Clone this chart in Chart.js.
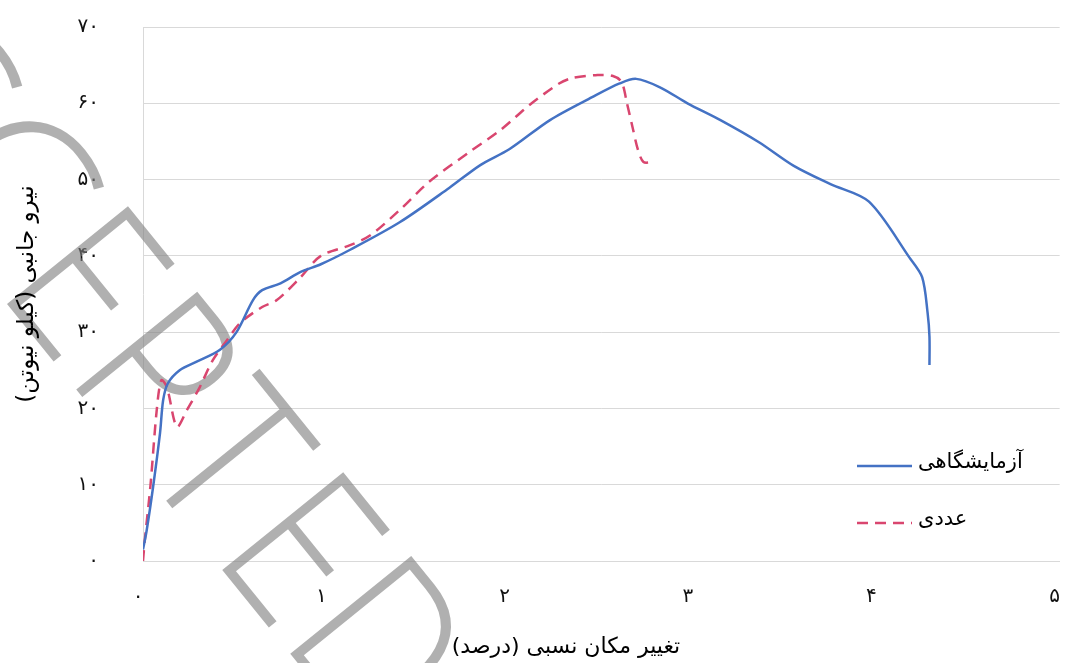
<!DOCTYPE html>
<html>
<head>
<meta charset="utf-8">
<script src="https://cdn.jsdelivr.net/npm/chart.js"></script>
<style>
  html, body { margin: 0; padding: 0; background: #fff; }
  #wrap { width: 1065px; height: 663px; }
</style>
</head>
<body>
<div id="wrap"><canvas id="myChart" width="1065" height="663"></canvas></div>
<script>
// داده‌ها (خوانده شده از تصویر)
const seriesNames = ['آزمایشگاهی', 'عددی'];
const xTickLabels = ['۰', '۱', '۲', '۳', '۴', '۵'];
const yTickLabels = ['۰', '۱۰', '۲۰', '۳۰', '۴۰', '۵۰', '۶۰', '۷۰'];
const xTitle = 'تغییر مکان نسبی (درصد)';
const yTitle = 'نیرو جانبی (کیلو نیوتن)';

// آزمایشگاهی
const labX = [0, 0.02, 0.055, 0.093, 0.11, 0.136, 0.2, 0.29, 0.42, 0.51, 0.6, 0.65, 0.75, 0.86, 0.97, 1.13, 1.4, 1.67, 1.84, 2.0, 2.22, 2.45, 2.6, 2.69, 2.82, 2.97, 3.15, 3.36, 3.55, 3.75, 3.96, 4.18, 4.25, 4.28, 4.29, 4.29];
const labY = [1.5, 4.0, 9.7, 16.8, 21.1, 23.3, 25.0, 26.1, 27.7, 30.0, 34.2, 35.5, 36.4, 37.9, 38.9, 40.8, 44.4, 48.9, 51.9, 54.0, 57.8, 60.8, 62.6, 63.2, 62.1, 60.0, 57.8, 54.9, 51.8, 49.4, 47.1, 39.8, 37.2, 32.5, 29.4, 25.7];

// عددی
const numX = [0, 0.01, 0.04, 0.075, 0.1, 0.13, 0.185, 0.24, 0.31, 0.38, 0.46, 0.53, 0.65, 0.73, 0.86, 0.97, 1.13, 1.24, 1.4, 1.56, 1.78, 1.95, 2.11, 2.27, 2.34, 2.48, 2.56, 2.61, 2.64, 2.67, 2.7, 2.73, 2.78];
const numY = [0, 2.8, 9.7, 19.8, 23.7, 22.8, 17.6, 19.8, 22.8, 26.3, 29.0, 31.2, 33.3, 34.2, 37.2, 40.0, 41.4, 42.7, 46.0, 49.7, 53.6, 56.5, 59.8, 62.6, 63.3, 63.7, 63.6, 62.8, 60.0, 56.9, 53.9, 52.3, 52.3];

const blue = '#4472c4';
const red = '#d9466f';
const gridColor = '#d9d9d9';

function pts(xs, ys) {
  return xs.map((x, i) => ({ x: x, y: ys[i] }));
}

// واترمارک، عنوان محورها و راهنما
const decor = {
  id: 'decor',
  beforeDatasetsDraw(chart) {
    const ctx = chart.ctx;
    ctx.save();
    ctx.rotate(51 * Math.PI / 180);
    ctx.fillStyle = 'rgba(128,128,128,0.62)';
    ctx.font = '300 218px "Open Sans"';
    ctx.textBaseline = 'alphabetic';
    const word = 'ACCEPTED';
    const lefts = [-170, -35, 95, 240, 350, 450, 582, 690];
    for (let i = 0; i < word.length; i++) {
      const m = ctx.measureText(word[i]);
      ctx.save();
      ctx.translate(lefts[i], 186);
      ctx.scale(word[i] === 'C' ? 1 : 0.87, 1);
      ctx.fillText(word[i], m.actualBoundingBoxLeft, 0);
      ctx.restore();
    }
    ctx.restore();
  },
  afterDraw(chart) {
    const ctx = chart.ctx;
    const a = chart.chartArea;
    ctx.save();
    ctx.fillStyle = '#000';
    ctx.direction = 'rtl';
    ctx.textAlign = 'center';
    ctx.textBaseline = 'middle';
    ctx.font = '22px "DejaVu Sans"';
    ctx.fillText(xTitle, 566, 647);
    ctx.save();
    ctx.translate(27, (a.top + a.bottom) / 2);
    ctx.rotate(-Math.PI / 2);
    ctx.font = '23px "DejaVu Sans"';
    ctx.fillText(yTitle, 0, 0);
    ctx.restore();

    // راهنما
    ctx.font = '21px "DejaVu Sans"';
    const ds = chart.data.datasets;
    const rows = [466, 523];
    ds.forEach((d, i) => {
      ctx.beginPath();
      ctx.strokeStyle = d.borderColor;
      ctx.lineWidth = d.borderWidth;
      ctx.setLineDash(d.borderDash || []);
      ctx.moveTo(857, rows[i]);
      ctx.lineTo(912, rows[i]);
      ctx.stroke();
      ctx.setLineDash([]);
      ctx.textAlign = 'left';
      ctx.direction = 'ltr';
      ctx.fillText(d.label, 918, rows[i] - 3);
    });
    ctx.restore();
  }
};

const ctx = document.getElementById('myChart').getContext('2d');
const myChart = new Chart(ctx, {
  type: 'scatter',
  data: {
    datasets: [{
      label: seriesNames[0],
      data: pts(labX, labY),
      showLine: true,
      borderColor: blue,
      borderWidth: 2.5,
      pointRadius: 0,
      tension: 0.3
    }, {
      label: seriesNames[1],
      data: pts(numX, numY),
      showLine: true,
      borderColor: red,
      borderWidth: 2.5,
      borderDash: [11, 7],
      pointRadius: 0,
      tension: 0.3
    }]
  },
  options: {
    responsive: false,
    animation: false,
    devicePixelRatio: 1,
    layout: { padding: { top: 27, right: 5, left: 0, bottom: 0 } },
    plugins: {
      legend: { display: false },
      tooltip: { enabled: false }
    },
    scales: {
      x: {
        type: 'linear',
        min: 0,
        max: 5,
        afterFit: s => { s.height = 102; },
        grid: { display: true, drawOnChartArea: false, drawTicks: true, tickLength: 24, tickColor: 'rgba(0,0,0,0)', color: 'rgba(0,0,0,0)' },
        border: { display: true, color: gridColor, width: 1 },
        ticks: {
          stepSize: 1,
          padding: 0,
          labelOffset: -5,
          color: '#111',
          font: { family: 'DejaVu Sans', size: 20 },
          callback: v => xTickLabels[Math.round(v)]
        }
      },
      y: {
        min: 0,
        max: 70,
        afterFit: s => { s.width = 143; },
        grid: { color: gridColor, lineWidth: 1, drawTicks: true, tickLength: 44, tickColor: 'rgba(0,0,0,0)' },
        border: { display: true, color: gridColor, width: 1 },
        ticks: {
          stepSize: 10,
          padding: 0,
          color: '#111',
          font: { family: 'DejaVu Sans', size: 20 },
          callback: v => yTickLabels[Math.round(v / 10)]
        }
      }
    }
  },
  plugins: [decor]
});
</script>
</body>
</html>
